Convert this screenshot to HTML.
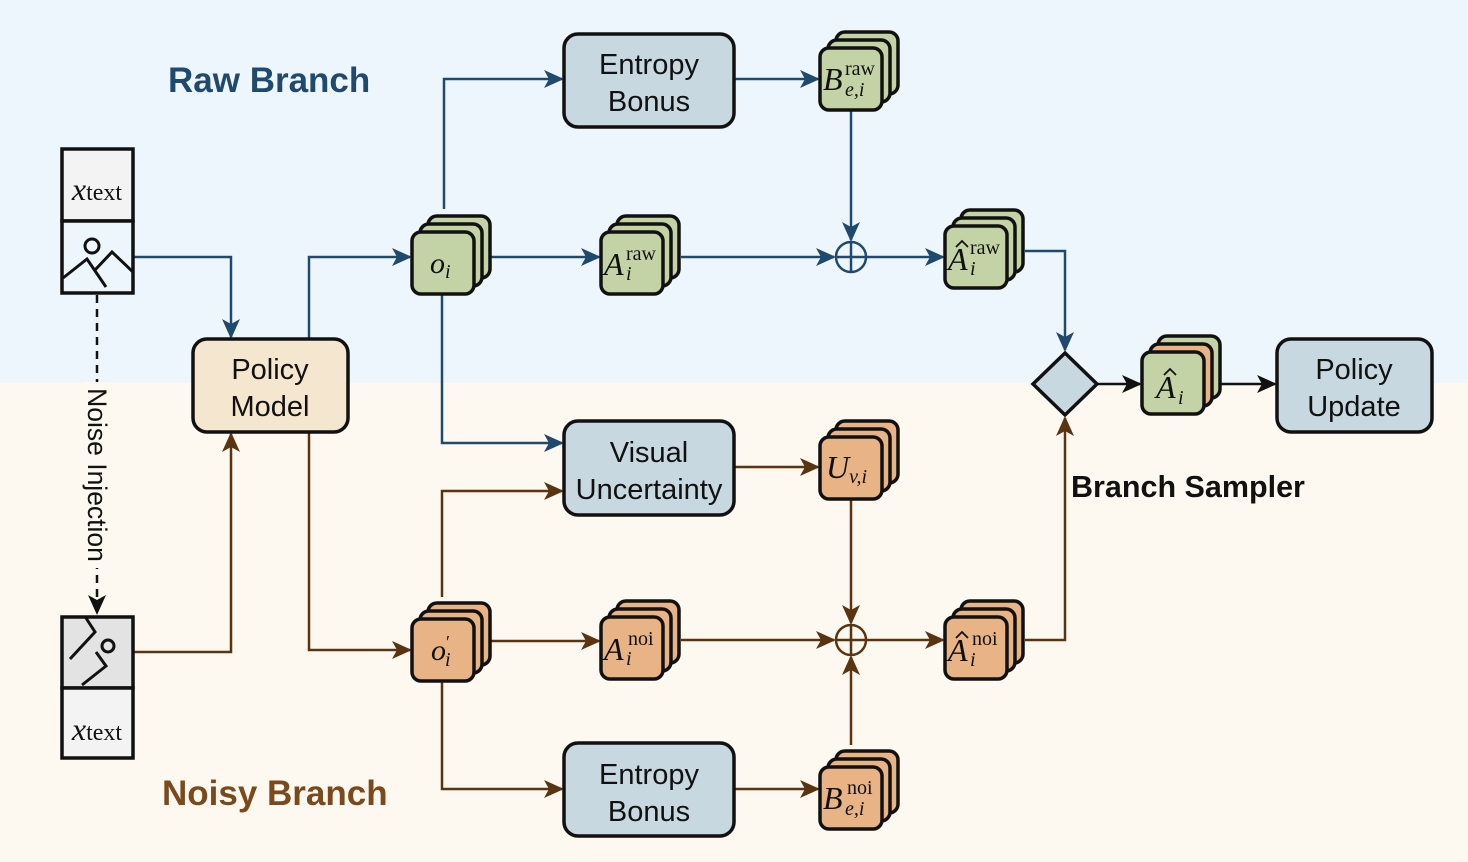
<!DOCTYPE html>
<html><head><meta charset="utf-8"><style>
html,body{margin:0;padding:0;background:#fff}
svg{display:block}
.box{stroke:#111;stroke-width:3.5}
.lbl{font-family:"Liberation Sans",sans-serif;font-size:29px;fill:#111;text-anchor:middle}
.m{font-family:"Liberation Serif",serif;fill:#111}
.mi{font-style:italic}
</style></head><body>
<svg width="1468" height="862" viewBox="0 0 1468 862" xmlns="http://www.w3.org/2000/svg">
<defs>
<marker id="abr" markerWidth="20" markerHeight="18" refX="18" refY="9" orient="auto" markerUnits="userSpaceOnUse"><path d="M0,0 L20,9 L0,18 L5,9 z" fill="#5a3410"/></marker>
<marker id="abl" markerWidth="20" markerHeight="18" refX="18" refY="9" orient="auto" markerUnits="userSpaceOnUse"><path d="M0,0 L20,9 L0,18 L5,9 z" fill="#1f4a6e"/></marker>
<marker id="abk" markerWidth="20" markerHeight="18" refX="18" refY="9" orient="auto" markerUnits="userSpaceOnUse"><path d="M0,0 L20,9 L0,18 L5,9 z" fill="#111"/></marker>
<g id="cg"><rect x="16" y="-16" width="62" height="62" rx="9" fill="#c4d3a6" class="box" stroke-width="3"/><rect x="8" y="-8" width="62" height="62" rx="9" fill="#c4d3a6" class="box" stroke-width="3"/><rect x="0" y="0" width="62" height="62" rx="9" fill="#c4d3a6" class="box" stroke-width="3"/></g>
<g id="co"><rect x="16" y="-16" width="62" height="62" rx="9" fill="#e8b486" class="box" stroke-width="3"/><rect x="8" y="-8" width="62" height="62" rx="9" fill="#e8b486" class="box" stroke-width="3"/><rect x="0" y="0" width="62" height="62" rx="9" fill="#e8b486" class="box" stroke-width="3"/></g>
</defs>
<rect x="0" y="0" width="1468" height="383" fill="#eef6fd"/>
<rect x="0" y="383" width="1468" height="479" fill="#fdf9f1"/>

<text x="168" y="92" font-family="Liberation Sans,sans-serif" font-weight="bold" font-size="35" fill="#1f4a6e">Raw Branch</text>
<text x="162" y="805" font-family="Liberation Sans,sans-serif" font-weight="bold" font-size="35" fill="#7a4a1c">Noisy Branch</text>
<text x="1071" y="497" font-family="Liberation Sans,sans-serif" font-weight="bold" font-size="30.5" fill="#111">Branch Sampler</text>

<g fill="none" stroke="#1f4a6e" stroke-width="2.5">
<path d="M133,257 H231 V337" marker-end="url(#abl)"/>
<path d="M309,339 V257 H410" marker-end="url(#abl)"/>
<path d="M444,209 V79 H562" marker-end="url(#abl)"/>
<path d="M734,79 H818" marker-end="url(#abl)"/>
<path d="M851,110 V240" marker-end="url(#abl)"/>
<path d="M491,257 H599" marker-end="url(#abl)"/>
<path d="M681,257 H834" marker-end="url(#abl)"/>
<path d="M866,257 H943" marker-end="url(#abl)"/>
<path d="M1025,251 H1065 V350" marker-end="url(#abl)"/>
<path d="M442,294 V443 H562" marker-end="url(#abl)"/>
</g>
<g fill="none" stroke="#5a3410" stroke-width="2.5">
<path d="M309,432 V650 H410" marker-end="url(#abr)"/>
<path d="M133,652 H231 V434" marker-end="url(#abr)"/>
<path d="M442,597 V491 H562" marker-end="url(#abr)"/>
<path d="M734,467 H818" marker-end="url(#abr)"/>
<path d="M851,499 V623" marker-end="url(#abr)"/>
<path d="M491,641 H599" marker-end="url(#abr)"/>
<path d="M681,640 H834" marker-end="url(#abr)"/>
<path d="M866,640 H943" marker-end="url(#abr)"/>
<path d="M1025,640 H1065 V418" marker-end="url(#abr)"/>
<path d="M442,681 V789 H562" marker-end="url(#abr)"/>
<path d="M734,789 H818" marker-end="url(#abr)"/>
<path d="M851,745 V657" marker-end="url(#abr)"/>
</g>
<g fill="none" stroke="#111" stroke-width="2.5">
<path d="M1097,384 H1140" marker-end="url(#abk)"/>
<path d="M1220,384 H1275" marker-end="url(#abk)"/>
<path d="M97,295 V613" stroke-dasharray="8,6" marker-end="url(#abk)"/>
</g>
<rect x="84" y="382" width="26" height="186" fill="#fdf9f1"/>
<text transform="translate(88,475) rotate(90)" font-family="Liberation Sans,sans-serif" font-size="26.5" fill="#111" text-anchor="middle">Noise Injection</text>

<g fill="none" stroke-width="2.5">
<circle cx="851" cy="257" r="15" stroke="#1f4a6e"/><path d="M836,257 H866 M851,242 V272" stroke="#1f4a6e"/>
<circle cx="851" cy="640" r="15" stroke="#5a3410"/><path d="M836,640 H866 M851,625 V655" stroke="#5a3410"/>
</g>

<rect x="62" y="149" width="71" height="72" fill="#f3f3f3" class="box" stroke-width="3"/>
<text x="97" y="200" class="m" font-size="28" text-anchor="middle"><tspan class="mi" font-size="32">x</tspan><tspan font-size="24">text</tspan></text>
<rect x="62" y="221" width="71" height="72" fill="#eef6fd" class="box" stroke-width="3"/>
<g fill="none" stroke="#111" stroke-width="3"><circle cx="92" cy="246" r="7"/><path d="M63,278 L87,259 L106,287 M95,270 L112,252 L133,272"/></g>
<rect x="62" y="617" width="71" height="71" fill="#e3e3e3" class="box" stroke-width="3"/>
<g fill="none" stroke="#111" stroke-width="3"><circle cx="108" cy="646" r="6"/><path d="M86,618 L95,632 L70,659 M82,685 L106,666 L96,652"/></g>
<rect x="62" y="688" width="71" height="70" fill="#f3f3f3" class="box" stroke-width="3"/>
<text x="97" y="740" class="m" font-size="28" text-anchor="middle"><tspan class="mi" font-size="32">x</tspan><tspan font-size="24">text</tspan></text>

<rect x="193" y="339" width="155" height="93" rx="14" fill="#f5e6cf" class="box"/>
<text x="270" y="379" class="lbl">Policy</text><text x="270" y="416" class="lbl">Model</text>
<rect x="564" y="34" width="170" height="93" rx="14" fill="#c7d8e1" class="box"/>
<text x="649" y="74" class="lbl">Entropy</text><text x="649" y="111" class="lbl">Bonus</text>
<rect x="564" y="421" width="170" height="94" rx="14" fill="#c7d8e1" class="box"/>
<text x="649" y="462" class="lbl">Visual</text><text x="649" y="499" class="lbl">Uncertainty</text>
<rect x="564" y="743" width="170" height="93" rx="14" fill="#c7d8e1" class="box"/>
<text x="649" y="784" class="lbl">Entropy</text><text x="649" y="821" class="lbl">Bonus</text>
<rect x="1277" y="339" width="155" height="93" rx="14" fill="#c7d8e1" class="box"/>
<text x="1354" y="379" class="lbl">Policy</text><text x="1354" y="416" class="lbl">Update</text>
<path d="M1065,353 L1097,384 L1065,415 L1033,384 Z" fill="#c7d8e1" class="box"/>

<use href="#cg" x="412" y="232"/>
<text x="430" y="273" class="m mi" font-size="30">o<tspan font-size="20" dy="5">i</tspan></text>
<use href="#cg" x="601" y="232"/>
<text x="604" y="275" class="m mi" font-size="32">A</text><text x="626" y="260" class="m" font-size="20">raw</text><text x="626" y="280" class="m mi" font-size="20">i</text>
<use href="#cg" x="820" y="48"/>
<text x="823" y="90" class="m mi" font-size="32">B</text><text x="845" y="75" class="m" font-size="20">raw</text><text x="845" y="96" class="m mi" font-size="20">e,i</text>
<use href="#cg" x="945" y="226"/>
<text x="948" y="270" class="m mi" font-size="32">A</text><text x="970" y="254" class="m" font-size="20">raw</text><text x="970" y="275" class="m mi" font-size="20">i</text>
<path d="M956,247 L962,241 L968,247" fill="none" stroke="#111" stroke-width="1.8"/>
<g transform="translate(1142,352)">
<rect x="16" y="-16" width="62" height="62" rx="9" fill="#c4d3a6" class="box" stroke-width="3"/>
<rect x="8" y="-8" width="62" height="62" rx="9" fill="#e8b486" class="box" stroke-width="3"/>
<rect x="0" y="0" width="62" height="62" rx="9" fill="#c4d3a6" class="box" stroke-width="3"/>
</g>
<text x="1156" y="398" class="m mi" font-size="32">A</text><text x="1178" y="404" class="m mi" font-size="20">i</text>
<path d="M1164,375 L1170,369 L1176,375" fill="none" stroke="#111" stroke-width="1.8"/>

<use href="#co" x="820" y="437"/>
<text x="826" y="478" class="m mi" font-size="32">U<tspan font-size="20" dy="5">v,i</tspan></text>
<use href="#co" x="412" y="619"/>
<text x="431" y="660" class="m mi" font-size="30">o</text><text x="446" y="648" class="m" font-size="18">′</text><text x="445" y="666" class="m mi" font-size="20">i</text>
<use href="#co" x="601" y="617"/>
<text x="604" y="660" class="m mi" font-size="32">A</text><text x="628" y="645" class="m" font-size="20">noi</text><text x="626" y="665" class="m mi" font-size="20">i</text>
<use href="#co" x="945" y="617"/>
<text x="948" y="661" class="m mi" font-size="32">A</text><text x="972" y="645" class="m" font-size="20">noi</text><text x="970" y="666" class="m mi" font-size="20">i</text>
<path d="M956,638 L962,632 L968,638" fill="none" stroke="#111" stroke-width="1.8"/>
<use href="#co" x="820" y="767"/>
<text x="823" y="809" class="m mi" font-size="32">B</text><text x="847" y="794" class="m" font-size="20">noi</text><text x="845" y="815" class="m mi" font-size="20">e,i</text>
</svg>
</body></html>
